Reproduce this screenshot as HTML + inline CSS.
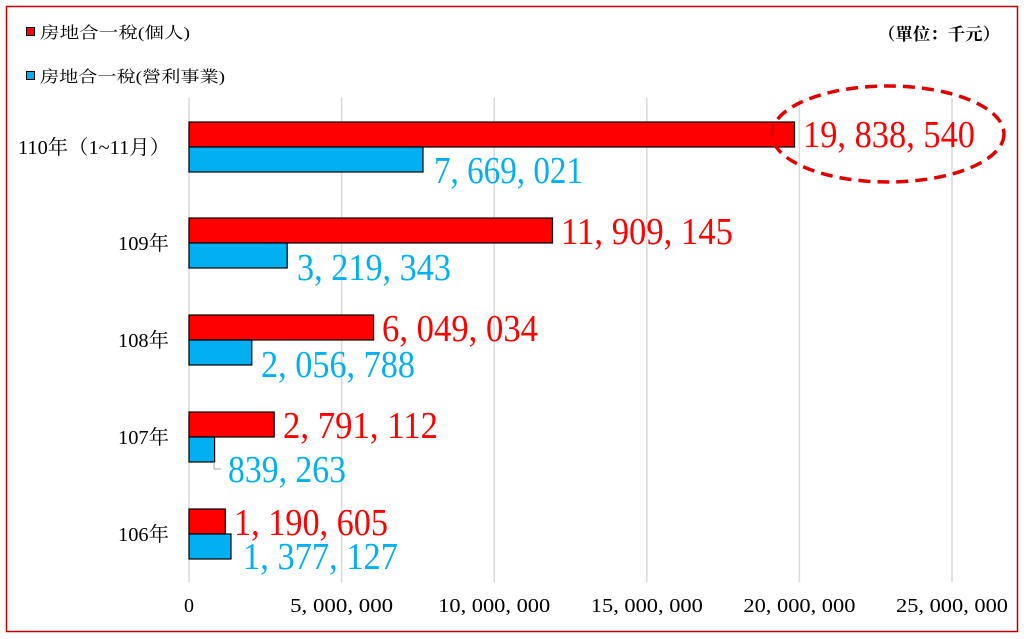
<!DOCTYPE html>
<html><head><meta charset="utf-8"><style>
html,body{margin:0;padding:0;background:#fff;}
svg{display:block;}
</style></head><body>
<svg width="1024" height="639" xmlns="http://www.w3.org/2000/svg" font-family="'Liberation Serif','Noto Serif CJK SC',serif">
<rect x="6.5" y="6.5" width="1011" height="625" fill="#fff" stroke="#c00000" stroke-width="1.5"/>
<g stroke="#d9d9d9" stroke-width="1.5">
<line x1="189" y1="98" x2="189" y2="582"/>
<line x1="341.6" y1="98" x2="341.6" y2="582"/>
<line x1="494.2" y1="98" x2="494.2" y2="582"/>
<line x1="646.8" y1="98" x2="646.8" y2="582"/>
<line x1="799.4" y1="98" x2="799.4" y2="582"/>
<line x1="952" y1="98" x2="952" y2="582"/>
</g>
<g stroke="#000" stroke-width="1.2">
<rect x="189" y="122" width="605.5" height="25" fill="#ff0000"/>
<rect x="189" y="147" width="234" height="25" fill="#00b0f0"/>
<rect x="189" y="218" width="363.5" height="25" fill="#ff0000"/>
<rect x="189" y="243" width="98.2" height="25" fill="#00b0f0"/>
<rect x="189" y="315" width="184.6" height="25" fill="#ff0000"/>
<rect x="189" y="340" width="62.8" height="25" fill="#00b0f0"/>
<rect x="189" y="412" width="85.2" height="25" fill="#ff0000"/>
<rect x="189" y="437" width="25.6" height="25" fill="#00b0f0"/>
<rect x="189" y="509" width="36.3" height="25" fill="#ff0000"/>
<rect x="189" y="534" width="42" height="25" fill="#00b0f0"/>
</g>
<polyline points="214,462 214,469 221,469" fill="none" stroke="#a6a6a6" stroke-width="1"/>
<g font-size="38" fill="#ff0000">
<text x="803" y="147" textLength="172" lengthAdjust="spacingAndGlyphs">19, 838, 540</text>
<text x="561" y="244" textLength="172" lengthAdjust="spacingAndGlyphs">11, 909, 145</text>
<text x="382" y="341" textLength="156" lengthAdjust="spacingAndGlyphs">6, 049, 034</text>
<text x="283" y="438" textLength="155" lengthAdjust="spacingAndGlyphs">2, 791, 112</text>
<text x="234" y="535" textLength="154" lengthAdjust="spacingAndGlyphs">1, 190, 605</text>
</g>
<g font-size="38" fill="#00b0f0">
<text x="434" y="183" textLength="149" lengthAdjust="spacingAndGlyphs">7, 669, 021</text>
<text x="297" y="280" textLength="154" lengthAdjust="spacingAndGlyphs">3, 219, 343</text>
<text x="261" y="377" textLength="154" lengthAdjust="spacingAndGlyphs">2, 056, 788</text>
<text x="228" y="482" textLength="118" lengthAdjust="spacingAndGlyphs">839, 263</text>
<text x="243" y="569" textLength="155" lengthAdjust="spacingAndGlyphs">1, 377, 127</text>
</g>
<ellipse cx="888" cy="134" rx="116" ry="48" fill="none" stroke="#e00000" stroke-width="3.5" stroke-dasharray="12,7"/>
<g font-size="20" fill="#000" text-anchor="end">
<text x="170" y="154" textLength="152" lengthAdjust="spacingAndGlyphs">110年（1~11月）</text>
<text x="169" y="250" textLength="51" lengthAdjust="spacingAndGlyphs">109年</text>
<text x="169" y="347" textLength="51" lengthAdjust="spacingAndGlyphs">108年</text>
<text x="169" y="444" textLength="51" lengthAdjust="spacingAndGlyphs">107年</text>
<text x="169" y="541" textLength="51" lengthAdjust="spacingAndGlyphs">106年</text>
</g>
<g font-size="20" fill="#000" text-anchor="middle">
<text x="189" y="612">0</text>
<text x="341.6" y="612" textLength="103" lengthAdjust="spacingAndGlyphs">5, 000, 000</text>
<text x="494.2" y="612" textLength="112" lengthAdjust="spacingAndGlyphs">10, 000, 000</text>
<text x="646.8" y="612" textLength="112" lengthAdjust="spacingAndGlyphs">15, 000, 000</text>
<text x="799.4" y="612" textLength="112" lengthAdjust="spacingAndGlyphs">20, 000, 000</text>
<text x="952" y="612" textLength="112" lengthAdjust="spacingAndGlyphs">25, 000, 000</text>
</g>
<rect x="26.5" y="27.5" width="8" height="8" fill="#ff0000" stroke="#000"/>
<rect x="26.5" y="71.5" width="8" height="8" fill="#00b0f0" stroke="#000"/>
<g font-size="16" fill="#000">
<text x="40" y="38" textLength="150" lengthAdjust="spacingAndGlyphs">房地合一稅(個人)</text>
<text x="40" y="82" textLength="185" lengthAdjust="spacingAndGlyphs">房地合一稅(營利事業)</text>
<text x="1000" y="40" text-anchor="end" font-weight="bold" font-size="17" textLength="122" lengthAdjust="spacingAndGlyphs">（單位：千元）</text>
</g>
</svg>
</body></html>
